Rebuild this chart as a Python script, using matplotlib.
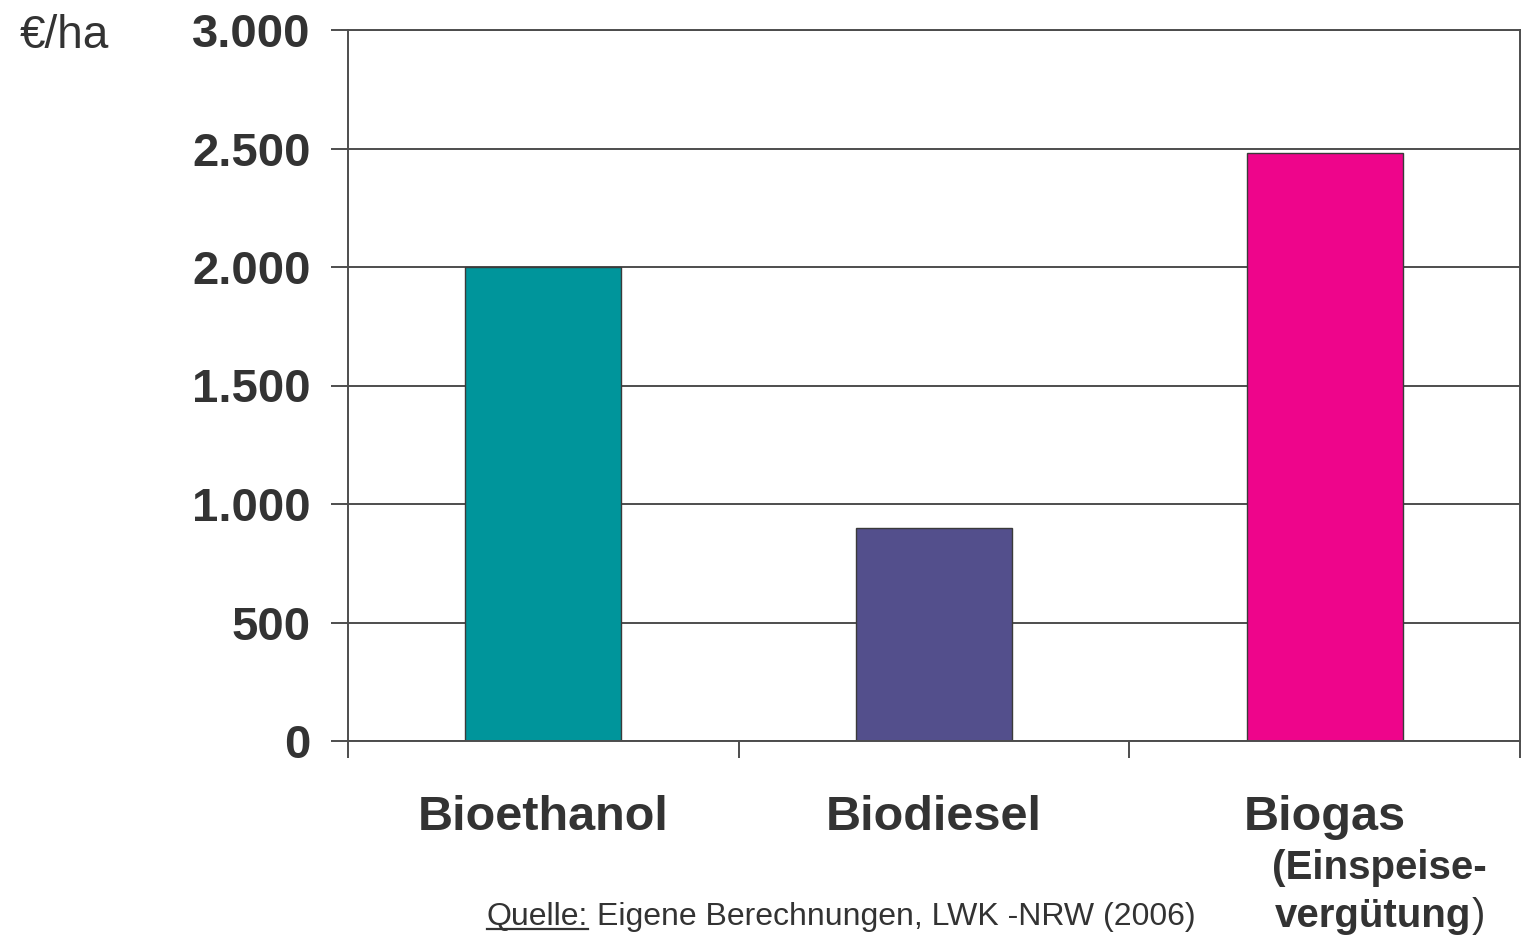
import matplotlib
matplotlib.use("Agg")
import matplotlib.pyplot as plt
from matplotlib.lines import Line2D

plt.rcParams["font.family"] = ["Liberation Sans", "DejaVu Sans"]

TXT = "#333333"
LINE = "#4d4d4d"

categories = ["Bioethanol", "Biodiesel", "Biogas"]
values = [2000, 900, 2480]
colors = ["#00959b", "#534f8c", "#ee058b"]
yticks = [0, 500, 1000, 1500, 2000, 2500, 3000]
ytick_labels = ["0", "500", "1.000", "1.500", "2.000", "2.500", "3.000"]
biogas_sub1 = "(Einspeise-"
biogas_sub2 = "vergütung"
unit = "€/ha"
source_head = "Quelle:"
source_rest = "Eigene Berechnungen, LWK -NRW (2006)"

W, H = 1522, 935
fig = plt.figure(figsize=(W / 100, H / 100), dpi=100)
ax = fig.add_axes([348 / W, (H - 741) / H, (1520 - 348) / W, (741 - 30) / H])

x = list(range(len(categories)))
ax.bar(x, values, width=0.4, color=colors, edgecolor="#3a3a3a", linewidth=1.0, zorder=2)

ax.set_xlim(-0.5, 2.5)
ax.set_ylim(0, 3000)
ax.set_axisbelow(True)
ax.yaxis.grid(True, color=LINE, linewidth=1.4)
for s in ax.spines.values():
    s.set_color(LINE)
    s.set_linewidth(1.4)

ax.set_yticks(yticks)
ax.set_yticklabels(ytick_labels, fontsize=34, fontweight="bold", color=TXT)
ax.tick_params(axis="y", length=12, width=1.4, color=LINE, pad=15)

ax.set_xticks(x)
ax.set_xticklabels(categories, fontsize=35, fontweight="bold", color=TXT)
ax.set_xticks([-0.5, 0.5, 1.5, 2.5], minor=True)
ax.tick_params(axis="x", which="major", length=0, pad=39)
ax.tick_params(axis="x", which="minor", length=12, width=1.4, color=LINE)

tr = ax.get_xaxis_transform()
ax.text(2.14, -0.178, biogas_sub1, transform=tr, ha="center", va="center",
        fontsize=29, fontweight="bold", color=TXT)
t_v = ax.text(2.125, -0.246, biogas_sub2, transform=tr, ha="center", va="center",
              fontsize=29, fontweight="bold", color=TXT)
ax.annotate(")", xy=(1, 0), xycoords=t_v, ha="left", va="bottom",
            fontsize=29, color=TXT)

fig.text(20 / W, (H - 48) / H, unit, ha="left", va="baseline", fontsize=33, color=TXT)

y_base = (H - 925) / H
t_q = fig.text(487 / W, y_base, source_head, ha="left", va="baseline", fontsize=23, color=TXT)
fig.canvas.draw()
bb = t_q.get_window_extent()
fig.text((bb.x1 + 9) / W, y_base, source_rest, ha="left", va="baseline", fontsize=23, color=TXT)
uy = y_base - 4 / H
fig.add_artist(Line2D([bb.x0 / W, bb.x1 / W], [uy, uy], transform=fig.transFigure,
                      color=TXT, linewidth=1.6))

fig.savefig("out.png", dpi=100)
